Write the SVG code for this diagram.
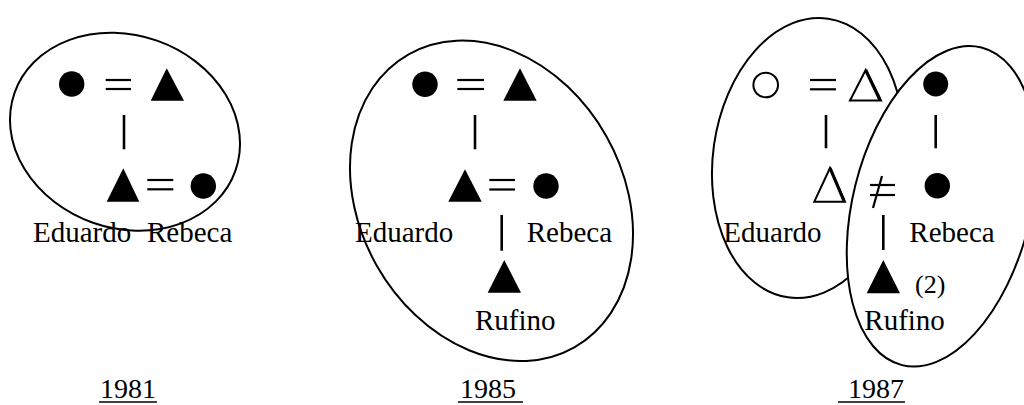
<svg xmlns="http://www.w3.org/2000/svg" width="1024" height="405" viewBox="0 0 1024 405">
<style>
.ell{fill:none;stroke:#000;stroke-width:2}
.ellw{fill:#fff;stroke:#000;stroke-width:2}
.sym{fill:#000}
.open{fill:none;stroke:#000;stroke-width:2}
.ln{stroke:#000;stroke-width:2.2;fill:none}
.vl{stroke:#000;stroke-width:2.6;fill:none}
.ul{stroke:#000;stroke-width:1.6;fill:none}
text{font-family:"Liberation Serif","Times New Roman",serif;fill:#000}
.lbl{font-size:29px}
.yr{font-size:28px}
.sm{font-size:26px}
</style>
<rect width="1024" height="405" fill="#fff"/>
<g id="groups">
  <ellipse id="group-1981" class="ell" cx="125" cy="131.7" rx="117.1" ry="96.5" transform="rotate(19.4 125 131.7)"/>
  <ellipse id="group-1985" class="ell" cx="491.5" cy="200.8" rx="168.3" ry="131.8" transform="rotate(60.5 491.5 200.8)"/>
  <ellipse id="group-1987-eduardo" class="ell" cx="808" cy="158" rx="94.9" ry="140.8" transform="rotate(8.2 808 158)"/>
  <ellipse id="group-1987-rebeca" class="ellw" cx="941.7" cy="206.3" rx="88.9" ry="163.7" transform="rotate(14.05 941.7 206.3)"/>
</g>
<g id="connectors">
  <line class="ln" x1="105.7" y1="80" x2="131" y2="80"/><line class="ln" x1="105.7" y1="89" x2="131" y2="89"/>
  <line class="vl" x1="124" y1="115" x2="124" y2="149.3"/>
  <line class="ln" x1="147.3" y1="180" x2="173.3" y2="180"/><line class="ln" x1="147.3" y1="189.3" x2="173.3" y2="189.3"/>
  <line class="ln" x1="457.3" y1="80" x2="484" y2="80"/><line class="ln" x1="457.3" y1="89" x2="484" y2="89"/>
  <line class="vl" x1="475" y1="115" x2="475" y2="149.3"/>
  <line class="ln" x1="489.3" y1="180" x2="515" y2="180"/><line class="ln" x1="489.3" y1="189.5" x2="515" y2="189.5"/>
  <line class="vl" x1="501.7" y1="215" x2="501.7" y2="250.7"/>
  <line class="ln" x1="810" y1="80" x2="836" y2="80"/><line class="ln" x1="810" y1="89.3" x2="836" y2="89.3"/>
  <line class="vl" x1="826" y1="115" x2="826" y2="148.3"/>
  <line class="vl" x1="935.7" y1="115" x2="935.7" y2="148.3"/>
  <line class="ln" x1="870" y1="185" x2="895" y2="185"/><line class="ln" x1="870" y1="195" x2="895" y2="195"/>
  <line class="ln" x1="882" y1="176" x2="873" y2="208"/>
  <line class="vl" x1="883.3" y1="215" x2="883.3" y2="250"/>
</g>
<g id="n1981-mother"><circle class="sym" cx="71.7" cy="84" r="12.7"/></g>
<g id="n1981-father"><polygon class="sym" points="166.7,68.3 150.7,100.7 184,100.7"/></g>
<g id="n1981-eduardo"><polygon class="sym" points="123.3,168.3 106.7,201.7 139.3,201.7"/><text class="lbl" x="33" y="241.7">Eduardo</text></g>
<g id="n1981-rebeca"><circle class="sym" cx="203.3" cy="186" r="12.7"/><text class="lbl" x="147" y="241.7">Rebeca</text></g>
<g id="n1985-mother"><circle class="sym" cx="425" cy="84.3" r="12.7"/></g>
<g id="n1985-father"><polygon class="sym" points="520,68.3 503.3,100.7 536.7,100.7"/></g>
<g id="n1985-eduardo"><polygon class="sym" points="465,169.3 448.3,201.7 481.7,201.7"/><text class="lbl" x="355" y="241.7">Eduardo</text></g>
<g id="n1985-rebeca"><circle class="sym" cx="546" cy="186" r="12.7"/><text class="lbl" x="526.7" y="241.7">Rebeca</text></g>
<g id="n1985-rufino"><polygon class="sym" points="504.3,260 487.7,292.7 521,292.7"/><text class="lbl" x="475" y="330">Rufino</text></g>
<g id="n1987-mother"><circle class="open" cx="765.7" cy="85" r="12.3"/></g>
<g id="n1987-father"><polygon class="open" points="865.7,70 850,100.5 881,100.5" stroke-width="1.6"/><line x1="865.7" y1="70" x2="880" y2="100" stroke="#000" stroke-width="3.2"/></g>
<g id="n1987-eduardo"><polygon class="open" points="830,168 814.3,201.7 845,201.7" stroke-width="1.6"/><line x1="830" y1="168" x2="844" y2="201" stroke="#000" stroke-width="3.2"/><text class="lbl" x="723.3" y="241.7">Eduardo</text></g>
<g id="n1987-rebeca-mother"><circle class="sym" cx="935.7" cy="84" r="12.5"/></g>
<g id="n1987-rebeca"><circle class="sym" cx="937.3" cy="185.7" r="12.7"/><text class="lbl" x="909.3" y="241.7">Rebeca</text></g>
<g id="n1987-rufino"><polygon class="sym" points="883.3,260 866.7,293.3 900,293.3"/><text class="sm" x="915" y="292.7">(2)</text><text class="lbl" x="864.3" y="330">Rufino</text></g>
<g id="years">
  <text class="yr" x="100" y="398">1981</text><line class="ul" x1="99" y1="402" x2="157" y2="402"/>
  <text class="yr" x="460" y="398">1985</text><line class="ul" x1="458" y1="402" x2="523" y2="402"/>
  <text class="yr" x="848" y="398">1987</text><line class="ul" x1="838" y1="402" x2="905" y2="402"/>
</g>
</svg>
